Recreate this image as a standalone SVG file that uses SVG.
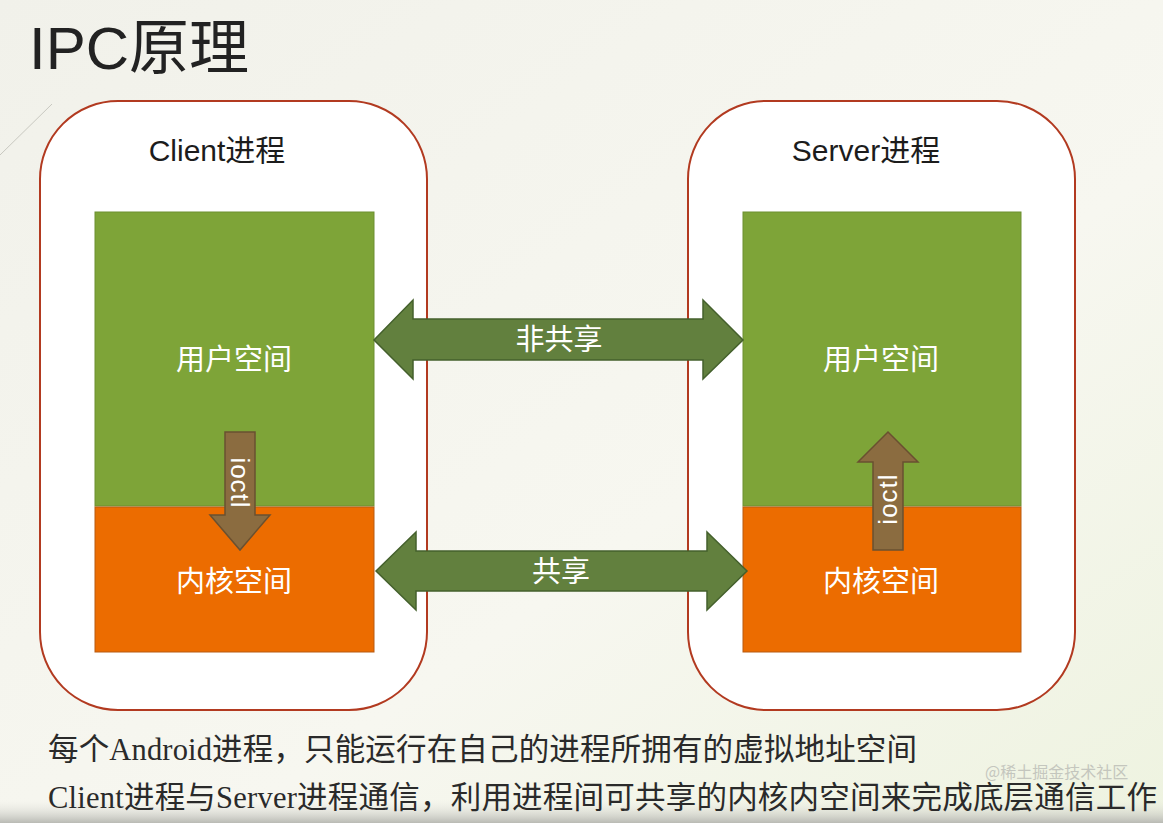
<svg xmlns="http://www.w3.org/2000/svg" width="1163" height="823" viewBox="0 0 1163 823">
<defs>
<linearGradient id="bg" x1="0" y1="0" x2="1" y2="1">
<stop offset="0" stop-color="#f1f1ea"/>
<stop offset="0.6" stop-color="#f7f7f0"/>
<stop offset="1" stop-color="#eef3e0"/>
</linearGradient>
<linearGradient id="shade" x1="0" y1="0" x2="0" y2="1">
<stop offset="0" stop-color="#e9e9e2" stop-opacity="0"/>
<stop offset="1" stop-color="#b9bab4"/>
</linearGradient>
<style>
.proc{fill:#ffffff;stroke:#b23a20;stroke-width:2}
.user{fill:#7ea438;stroke:#6d8f30;stroke-width:1}
.kern{fill:#ec6c00;stroke:#b85a10;stroke-width:1}
.big{fill:#62803e;stroke:#44602c;stroke-width:1.5}
.io{fill:#8b6c40;stroke:#6a5030;stroke-width:1.5}
.t{font-family:"Liberation Sans","Noto Sans CJK SC",sans-serif;text-anchor:middle}
.w{fill:#ffffff;font-size:29px}
.h{fill:#1c1c1c;font-size:30px}
.b{font-family:"Liberation Serif","Noto Sans CJK SC",serif;font-size:30.5px;fill:#2a2a2a}
</style>
</defs>
<rect x="0" y="0" width="1163" height="823" fill="url(#bg)"/>
<rect x="0" y="800" width="1163" height="23" fill="url(#shade)"/>
<line x1="0" y1="155" x2="52" y2="104" stroke="#c8c8c0" stroke-width="1"/>
<text x="29" y="69" font-family="Liberation Sans,'Noto Sans CJK SC',sans-serif" font-size="60" fill="#222222">IPC原理</text>

<g id="client">
<rect class="proc" x="40" y="101" width="387" height="609" rx="78" ry="78"/>
<text class="t h" x="217" y="161">Client进程</text>
</g>
<g id="client-user">
<rect class="user" x="95" y="212" width="279" height="294"/>
<text class="t w" x="234" y="370">用户空间</text>
</g>
<g id="client-kernel">
<rect class="kern" x="95" y="507" width="279" height="145"/>
<text class="t w" x="234" y="592">内核空间</text>
</g>

<g id="server">
<rect class="proc" x="688" y="101" width="387" height="609" rx="78" ry="78"/>
<text class="t h" x="866" y="161">Server进程</text>
</g>
<g id="server-user">
<rect class="user" x="743" y="212" width="278" height="294"/>
<text class="t w" x="881" y="370">用户空间</text>
</g>
<g id="server-kernel">
<rect class="kern" x="743" y="507" width="278" height="145"/>
<text class="t w" x="881" y="592">内核空间</text>
</g>

<g id="connectors">
<g id="nonshared">
<polygon class="big" points="374,340 413,300 413,319 703,319 703,300 743,340 703,379 703,360 413,360 413,379"/>
<text class="t w" x="559" y="350" fill="#f2f2ea">非共享</text>
</g>
<g id="shared">
<polygon class="big" points="376,571 416,532 416,551 707,551 707,532 747,571 707,610 707,591 416,591 416,610"/>
<text class="t w" x="561" y="582">共享</text>
</g>
<g id="ioctl-client">
<polygon class="io" points="225,432 255,432 255,515 270,515 240,550 210,515 225,515"/>
<text class="t" x="0" y="0" fill="#ffffff" font-size="26" letter-spacing="1" transform="translate(231,483) rotate(90)">ioctl</text>
</g>
<g id="ioctl-server">
<polygon class="io" points="888,432 918,462 903,462 903,550 873,550 873,462 858,462"/>
<text class="t" x="0" y="0" fill="#ffffff" font-size="26" letter-spacing="1" transform="translate(897,499) rotate(-90)">ioctl</text>
</g>
</g>

<text class="b" x="48" y="760" textLength="869" lengthAdjust="spacing">每个Android进程，只能运行在自己的进程所拥有的虚拟地址空间</text>
<text class="b" x="48" y="808" textLength="1109" lengthAdjust="spacing">Client进程与Server进程通信，利用进程间可共享的内核内空间来完成底层通信工作</text>
<text x="985" y="778" font-family="'Noto Sans CJK SC',sans-serif" font-size="16" fill="#9a9a9a" opacity="0.5">@稀土掘金技术社区</text>
</svg>
